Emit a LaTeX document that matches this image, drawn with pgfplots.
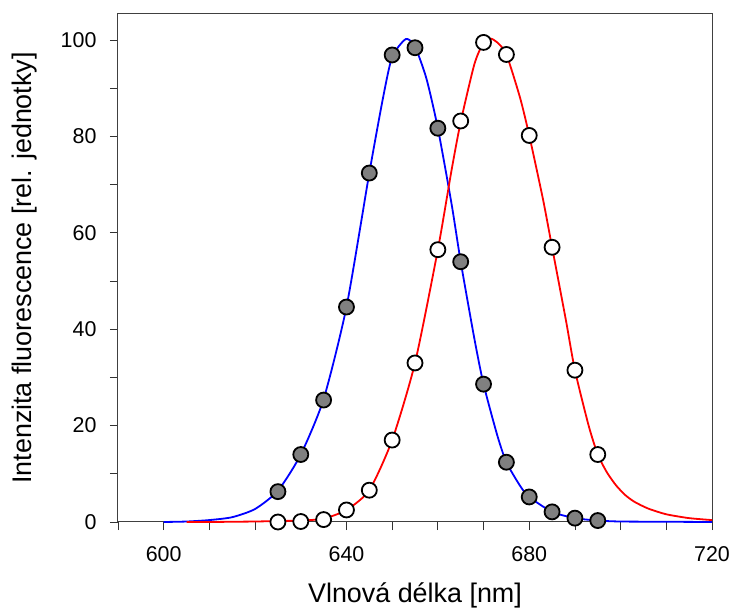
\documentclass[border=0pt]{standalone}
\usepackage{pgfplots}
\pgfplotsset{compat=1.18}
\usepackage{fontspec}
\setmainfont{Liberation Sans}
\begin{document}
\begin{tikzpicture}[x=1bp,y=1bp]
\useasboundingbox (-118,-94) rectangle (613,522);
\begin{axis}[
  at={(0,0)}, anchor=south west,
  scale only axis, width=594bp, height=508bp,
  xmin=590, xmax=720, ymin=0, ymax=105.4,
  xtick={600,640,680,720},
  minor xtick={590,610,620,630,650,660,670,690,700,710},
  ytick={0,20,40,60,80,100},
  minor ytick={10,30,50,70,90},
  tick align=outside, tick pos=left,
  major tick length=8bp, minor tick length=8bp,
  every tick/.style={black!80, line width=0.8bp},
  axis line style={black!75, line width=1bp},
  /pgf/number format/assume math mode=true,
  ticklabel style={font=\fontsize{21.5}{25}\selectfont},
  xticklabel style={yshift=-13bp},
  yticklabel style={xshift=-10bp},
  xlabel={Vlnová délka [nm]},
  ylabel={Intenzita fluorescence [rel. jednotky]},
  label style={font=\fontsize{27}{31}\selectfont},
  xlabel style={at={(axis description cs:0.5,-0.144)}, anchor=center},
  ylabel style={at={(axis description cs:-0.158,0.5)}, anchor=center, rotate=0},
  clip=false,
]
\addplot[blue, line width=1.8bp, smooth, tension=0.4] coordinates {
(600,0) (605,0.1) (610,0.4) (615,1.0) (620,2.7) (625,6.5) (630,14) (635,25.5)
(640,44.6) (645,72.4) (648,88) (650,96.5) (653,100.2) (655,98.6) (657.5,92)
(660,81.7) (663,66) (665,54) (668,38) (670,28.6) (673,18) (675,12.4)
(678,7.5) (680,5.2) (685,2.1) (690,0.8) (695,0.3) (700,0.1) (710,0.05) (720,0)
};
\addplot[red, line width=1.8bp, smooth, tension=0.4] coordinates {
(605,0) (610,0) (615,0.05) (620,0.1) (625,0.2) (630,0.3) (635,0.7) (640,2.5)
(645,6.6) (650,17) (655,33) (660,56.5) (663,73) (665,83) (668,95) (670,99.5)
(671.5,100.3) (673,99.5) (675,97) (678,88) (680,80.2) (683,67) (685,57)
(688,42) (690,31.5) (693,20) (695,14) (697,10.3) (699,7.6) (701,5.6)
(703,4.2) (706,2.8) (710,1.6) (715,0.8) (720,0.4)
};
\addplot[only marks, mark=*, mark size=7.5bp, mark options={draw=black, fill=black!50, line width=1.8bp}] coordinates {
(625,6.3) (630,14) (635,25.3) (640,44.6) (645,72.4) (650,96.9) (655,98.4)
(660,81.7) (665,54) (670,28.6) (675,12.4) (680,5.2) (685,2.1) (690,0.8) (695,0.3)
};
\addplot[only marks, mark=*, mark size=7.5bp, mark options={draw=black, fill=white, line width=1.8bp}] coordinates {
(625,0) (630,0.1) (635,0.5) (640,2.5) (645,6.6) (650,17) (655,33) (660,56.5)
(665,83.2) (670,99.5) (675,97) (680,80.2) (685,57) (690,31.5) (695,14)
};
\end{axis}
\end{tikzpicture}
\end{document}
